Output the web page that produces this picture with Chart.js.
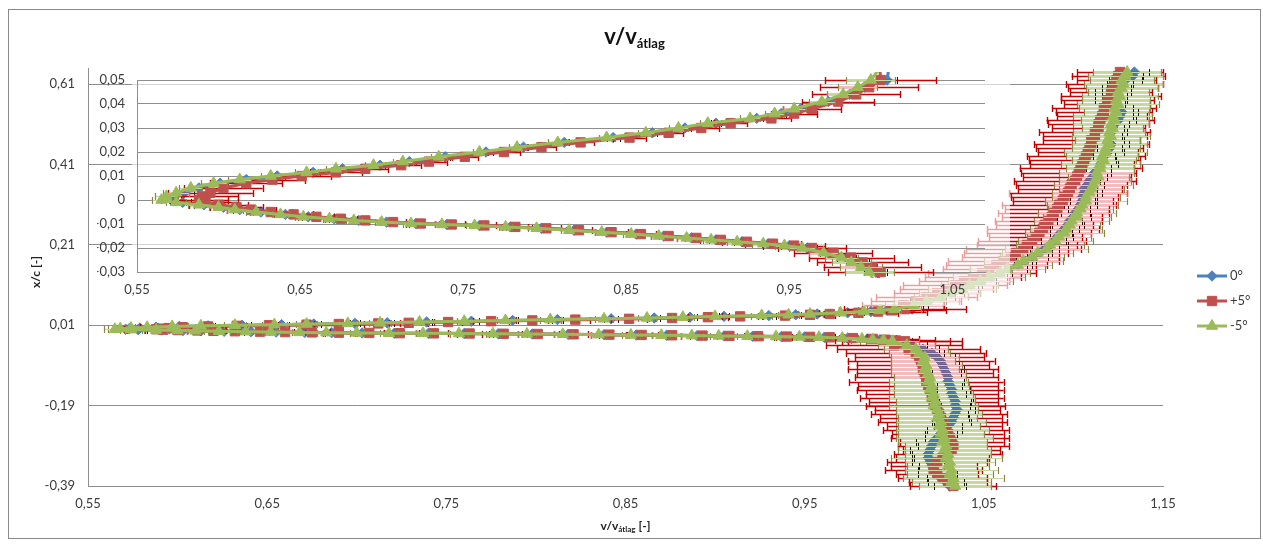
<!DOCTYPE html>
<html>
<head>
<meta charset="utf-8">
<script src="https://cdn.jsdelivr.net/npm/chart.js@4.4.1/dist/chart.umd.min.js"></script>
<style>
  html, body { margin: 0; padding: 0; background: #ffffff; }
  #wrap { position: relative; width: 1263px; height: 544px; }
  #wrap canvas { position: absolute; left: 0; top: 0; }
</style>
</head>
<body>
<div id="wrap">
  <canvas id="main" width="1263" height="544"></canvas>
  <canvas id="inset" width="1263" height="544"></canvas>
</div>
<script>
// Series names (legend order)
const seriesNames = ['0°', '+5°', '-5°'];

// x/c positions along the profile: upper side (top -> leading edge), then lower side
const xc = [
  0.64, 0.63, 0.62, 0.61, 0.60, 0.59, 0.58, 0.57, 0.56, 0.55,
  0.54, 0.53, 0.52, 0.51, 0.50, 0.49, 0.48, 0.47, 0.46, 0.45,
  0.44, 0.43, 0.42, 0.41, 0.40, 0.39, 0.38, 0.37, 0.36, 0.35,
  0.34, 0.33, 0.32, 0.31, 0.30, 0.29, 0.28, 0.27, 0.26, 0.25,
  0.24, 0.23, 0.22, 0.21, 0.20, 0.19, 0.18, 0.17, 0.16, 0.15,
  0.14, 0.13, 0.12, 0.11, 0.10, 0.09, 0.08, 0.07, 0.06,
  0.050, 0.047, 0.044, 0.041, 0.038, 0.036, 0.034, 0.032, 0.030, 0.028,
  0.026, 0.024, 0.022, 0.020, 0.018, 0.016, 0.0145, 0.013, 0.0115, 0.010,
  0.0085, 0.007, 0.005, 0.003, 0.0015, 0,
  -0.001, -0.002, -0.003, -0.004, -0.005, -0.006, -0.007, -0.0078, -0.0085, -0.0092,
  -0.0098, -0.0102, -0.0106, -0.0112, -0.0118, -0.0126, -0.0134, -0.0142, -0.015, -0.0158,
  -0.0166, -0.0174, -0.0182, -0.019, -0.020, -0.022, -0.024, -0.026, -0.028, -0.030,
  -0.04, -0.05, -0.06, -0.07, -0.08, -0.09, -0.10, -0.11, -0.12, -0.13,
  -0.14, -0.15, -0.16, -0.17, -0.18, -0.19, -0.20, -0.21, -0.22, -0.23,
  -0.24, -0.25, -0.26, -0.27, -0.28, -0.29, -0.30, -0.31, -0.32, -0.33,
  -0.34, -0.35, -0.36, -0.37, -0.38, -0.39
];

// v/v_átlag, 0°
const v0 = [
  1.134, 1.133, 1.129, 1.126, 1.124, 1.122, 1.123, 1.121, 1.123, 1.125,
  1.127, 1.126, 1.125, 1.123, 1.122, 1.121, 1.120, 1.120, 1.121, 1.120,
  1.119, 1.117, 1.116, 1.115, 1.114, 1.112, 1.111, 1.109, 1.108, 1.106,
  1.106, 1.105, 1.105, 1.104, 1.103, 1.101, 1.100, 1.098, 1.097, 1.095,
  1.093, 1.091, 1.089, 1.087, 1.084, 1.081, 1.077, 1.073, 1.069, 1.064,
  1.059, 1.054, 1.049, 1.043, 1.038, 1.032, 1.026, 1.019, 1.012,
  1.010, 0.996, 0.987, 0.974, 0.957, 0.945, 0.930, 0.905, 0.886, 0.866,
  0.842, 0.812, 0.787, 0.764, 0.739, 0.717, 0.699, 0.676, 0.658, 0.636,
  0.617, 0.601, 0.588, 0.579, 0.573, 0.571,
  0.578, 0.591, 0.603, 0.613, 0.626, 0.641, 0.655, 0.671, 0.686, 0.703,
  0.721, 0.740, 0.760, 0.779, 0.798, 0.818, 0.838, 0.856, 0.873, 0.890,
  0.905, 0.921, 0.937, 0.950, 0.961, 0.974, 0.985, 0.992, 0.998, 1.003,
  1.010, 1.016, 1.021, 1.024, 1.026, 1.027, 1.028, 1.029, 1.030, 1.030,
  1.031, 1.032, 1.032, 1.033, 1.034, 1.034, 1.035, 1.034, 1.033, 1.032,
  1.030, 1.028, 1.026, 1.024, 1.022, 1.021, 1.020, 1.019, 1.019, 1.020,
  1.021, 1.022, 1.024, 1.026, 1.029, 1.031
];

// v/v_átlag, +5°
const vPlus5 = [
  1.126, 1.125, 1.124, 1.123, 1.122, 1.121, 1.121, 1.119, 1.119, 1.117,
  1.117, 1.116, 1.115, 1.114, 1.114, 1.112, 1.112, 1.110, 1.110, 1.109,
  1.108, 1.107, 1.106, 1.105, 1.104, 1.103, 1.102, 1.101, 1.099, 1.098,
  1.097, 1.095, 1.094, 1.092, 1.091, 1.089, 1.088, 1.086, 1.084, 1.083,
  1.081, 1.079, 1.077, 1.074, 1.072, 1.068, 1.065, 1.061, 1.057, 1.053,
  1.049, 1.044, 1.039, 1.034, 1.029, 1.024, 1.018, 1.012, 1.005,
  1.006, 0.999, 0.991, 0.980, 0.964, 0.953, 0.939, 0.914, 0.896, 0.876,
  0.852, 0.822, 0.798, 0.775, 0.751, 0.729, 0.712, 0.690, 0.672, 0.651,
  0.633, 0.617, 0.603, 0.595, 0.590, 0.588,
  0.592, 0.600, 0.611, 0.620, 0.632, 0.646, 0.660, 0.675, 0.690, 0.707,
  0.724, 0.743, 0.763, 0.782, 0.801, 0.821, 0.841, 0.859, 0.876, 0.893,
  0.908, 0.924, 0.940, 0.953, 0.964, 0.977, 0.988, 0.995, 1.001, 1.006,
  1.000, 1.008, 1.012, 1.014, 1.015, 1.016, 1.016, 1.017, 1.018, 1.018,
  1.019, 1.020, 1.021, 1.021, 1.022, 1.023, 1.024, 1.025, 1.026, 1.027,
  1.028, 1.029, 1.030, 1.031, 1.032, 1.033, 1.032, 1.030, 1.027, 1.024,
  1.022, 1.022, 1.024, 1.027, 1.030, 1.033
];

// v/v_átlag, -5°
const vMinus5 = [
  1.130, 1.129, 1.127, 1.128, 1.127, 1.125, 1.126, 1.124, 1.125, 1.123,
  1.124, 1.122, 1.123, 1.121, 1.122, 1.120, 1.121, 1.119, 1.120, 1.118,
  1.118, 1.116, 1.117, 1.115, 1.115, 1.113, 1.114, 1.112, 1.111, 1.110,
  1.109, 1.107, 1.107, 1.105, 1.104, 1.102, 1.102, 1.099, 1.098, 1.096,
  1.095, 1.092, 1.090, 1.087, 1.085, 1.080, 1.077, 1.072, 1.069, 1.063,
  1.059, 1.053, 1.048, 1.042, 1.038, 1.031, 1.026, 1.018, 1.011,
  1.000, 0.992, 0.983, 0.970, 0.953, 0.941, 0.926, 0.900, 0.882, 0.862,
  0.838, 0.808, 0.783, 0.760, 0.735, 0.713, 0.695, 0.672, 0.654, 0.632,
  0.613, 0.597, 0.583, 0.574, 0.568, 0.565,
  0.574, 0.588, 0.600, 0.610, 0.623, 0.638, 0.652, 0.668, 0.683, 0.700,
  0.718, 0.737, 0.757, 0.776, 0.795, 0.815, 0.835, 0.853, 0.870, 0.887,
  0.902, 0.918, 0.934, 0.947, 0.958, 0.971, 0.982, 0.988, 0.994, 0.999,
  1.007, 1.012, 1.014, 1.017, 1.016, 1.018, 1.017, 1.019, 1.020, 1.019,
  1.021, 1.020, 1.022, 1.021, 1.023, 1.022, 1.024, 1.025, 1.024, 1.026,
  1.025, 1.027, 1.026, 1.028, 1.027, 1.029, 1.028, 1.030, 1.029, 1.031,
  1.030, 1.032, 1.031, 1.033, 1.032, 1.034
];

// Horizontal error (± v/v_átlag), 0°
const err0 = [
  0.008, 0.006, 0.009, 0.007, 0.008, 0.010, 0.007, 0.009, 0.006, 0.008,
  0.009, 0.007, 0.010, 0.008, 0.006, 0.009, 0.007, 0.008, 0.010, 0.007,
  0.009, 0.006, 0.008, 0.010, 0.007, 0.009, 0.008, 0.006, 0.009, 0.007,
  0.010, 0.008, 0.007, 0.009, 0.006, 0.008, 0.010, 0.007, 0.009, 0.008,
  0.006, 0.009, 0.007, 0.010, 0.008, 0.007, 0.009, 0.006, 0.008, 0.010,
  0.007, 0.009, 0.008, 0.006, 0.009, 0.007, 0.008, 0.010, 0.007,
  0.006, 0.005, 0.004, 0.005, 0.004, 0.003, 0.004, 0.003, 0.004, 0.003,
  0.004, 0.003, 0.003, 0.004, 0.003, 0.004, 0.003, 0.004, 0.004, 0.005,
  0.004, 0.005, 0.005, 0.006, 0.005, 0.006,
  0.005, 0.006, 0.005, 0.004, 0.005, 0.004, 0.004, 0.003, 0.004, 0.003,
  0.004, 0.003, 0.004, 0.003, 0.003, 0.004, 0.003, 0.004, 0.003, 0.004,
  0.004, 0.005, 0.004, 0.005, 0.006, 0.005, 0.006, 0.007, 0.006, 0.007,
  0.008, 0.009, 0.007, 0.010, 0.008, 0.009, 0.011, 0.008, 0.010, 0.009,
  0.007, 0.010, 0.008, 0.011, 0.009, 0.008, 0.010, 0.007, 0.009, 0.011,
  0.008, 0.010, 0.009, 0.007, 0.010, 0.008, 0.011, 0.009, 0.008, 0.010,
  0.007, 0.009, 0.011, 0.008, 0.010, 0.009
];

// Horizontal error (± v/v_átlag), +5°
const errPlus5 = [
  0.024, 0.026, 0.022, 0.027, 0.025, 0.023, 0.028, 0.026, 0.024, 0.029,
  0.027, 0.025, 0.030, 0.028, 0.026, 0.031, 0.029, 0.027, 0.032, 0.030,
  0.028, 0.033, 0.031, 0.029, 0.034, 0.032, 0.030, 0.034, 0.031, 0.029,
  0.033, 0.030, 0.028, 0.032, 0.029, 0.031, 0.028, 0.030, 0.027, 0.031,
  0.029, 0.026, 0.030, 0.028, 0.032, 0.029, 0.027, 0.031, 0.028, 0.026,
  0.030, 0.027, 0.025, 0.029, 0.026, 0.024, 0.028, 0.025, 0.023,
  0.034, 0.030, 0.027, 0.022, 0.018, 0.014, 0.012, 0.010, 0.011, 0.009,
  0.010, 0.008, 0.009, 0.010, 0.008, 0.011, 0.012, 0.014, 0.016, 0.018,
  0.020, 0.022, 0.024, 0.026, 0.022, 0.018,
  0.020, 0.018, 0.016, 0.015, 0.013, 0.012, 0.011, 0.010, 0.009, 0.008,
  0.009, 0.008, 0.007, 0.008, 0.009, 0.008, 0.010, 0.009, 0.011, 0.012,
  0.013, 0.015, 0.017, 0.019, 0.021, 0.024, 0.026, 0.028, 0.030, 0.032,
  0.038, 0.040, 0.039, 0.036, 0.041, 0.037, 0.042, 0.038, 0.040, 0.043,
  0.039, 0.041, 0.037, 0.040, 0.036, 0.039, 0.035, 0.038, 0.034, 0.036,
  0.032, 0.035, 0.031, 0.033, 0.029, 0.031, 0.027, 0.030, 0.026, 0.028,
  0.024, 0.027, 0.023, 0.025, 0.022, 0.024
];

// Horizontal error (± v/v_átlag), -5°
const errMinus5 = [
  0.019, 0.021, 0.018, 0.022, 0.020, 0.017, 0.021, 0.019, 0.023, 0.020,
  0.018, 0.022, 0.019, 0.021, 0.017, 0.020, 0.022, 0.018, 0.021, 0.019,
  0.023, 0.020, 0.018, 0.022, 0.019, 0.021, 0.017, 0.020, 0.022, 0.018,
  0.021, 0.019, 0.023, 0.020, 0.018, 0.022, 0.019, 0.021, 0.017, 0.020,
  0.022, 0.018, 0.021, 0.019, 0.023, 0.020, 0.018, 0.022, 0.019, 0.021,
  0.017, 0.020, 0.018, 0.016, 0.019, 0.017, 0.015, 0.018, 0.016,
  0.015, 0.012, 0.010, 0.008, 0.007, 0.006, 0.006, 0.005, 0.006, 0.005,
  0.005, 0.006, 0.005, 0.004, 0.005, 0.006, 0.005, 0.006, 0.007, 0.006,
  0.007, 0.008, 0.007, 0.008, 0.007, 0.006,
  0.006, 0.007, 0.006, 0.005, 0.006, 0.005, 0.005, 0.004, 0.005, 0.004,
  0.005, 0.004, 0.005, 0.004, 0.005, 0.005, 0.004, 0.005, 0.005, 0.006,
  0.005, 0.006, 0.007, 0.006, 0.008, 0.009, 0.010, 0.012, 0.013, 0.015,
  0.016, 0.018, 0.017, 0.019, 0.018, 0.020, 0.019, 0.021, 0.020, 0.022,
  0.021, 0.023, 0.022, 0.024, 0.022, 0.025, 0.023, 0.024, 0.022, 0.025,
  0.023, 0.026, 0.024, 0.027, 0.025, 0.023, 0.026, 0.024, 0.031, 0.025,
  0.023, 0.026, 0.024, 0.028, 0.022, 0.020
];

// Axis ticks
const mainXTicks = [0.55, 0.65, 0.75, 0.85, 0.95, 1.05, 1.15];
const mainYTicks = [-0.39, -0.19, 0.01, 0.21, 0.41, 0.61];
const insetXTicks = [0.55, 0.65, 0.75, 0.85, 0.95, 1.05];
const insetYTicks = [-0.03, -0.02, -0.01, 0, 0.01, 0.02, 0.03, 0.04, 0.05];

// ---- styling ----
const FONT = 'Lato, "Open Sans", sans-serif';
const TXT = '#3b3b3b';
const GRID = '#8e8e8e';
const FRAME = '#8a8a8a';

const seriesValues = [v0, vPlus5, vMinus5];
const seriesErrors = [err0, errPlus5, errMinus5];
const seriesStyles = [
  { color: '#4F81BD', pointStyle: 'rectRot', radius: 5.2, errColor: '#111111', capColor: '#111111', errWidth: 1, order: 2 },
  { color: '#C0504D', pointStyle: 'rect', radius: 6.6, errColor: '#C80000', capColor: '#C00000', errWidth: 1.4, order: 1 },
  { color: '#9BBB59', pointStyle: 'triangle', radius: 6.5, errColor: '#C6D79E', capColor: '#8F8445', errWidth: 1.2, order: 0 }
];

const fmt = v => (Math.abs(v) < 1e-9 ? '0' : Number(v).toFixed(2).replace('.', ','));

function makeDatasets(clip) {
  return seriesStyles.map((s, k) => ({
    label: seriesNames[k],
    data: xc.map((y, i) => ({ x: seriesValues[k][i], y })),
    showLine: true,
    borderColor: s.color,
    backgroundColor: s.color,
    borderWidth: 3,
    pointStyle: s.pointStyle,
    pointRadius: s.radius,
    pointBorderWidth: 1,
    pointBorderColor: s.color,
    pointBackgroundColor: s.color,
    order: s.order,
    clip: clip,
    errX: seriesErrors[k],
    errColor: s.errColor,
    errCapColor: s.capColor,
    errWidth: s.errWidth
  }));
}

// Horizontal error bars, drawn just before each series so the stacking follows the series order
const errorBarPlugin = {
  id: 'errorBars',
  beforeDatasetDraw(chart, args, opts) {
    const ds = chart.data.datasets[args.index];
    if (!ds.errX) return;
    const ctx = chart.ctx, a = chart.chartArea;
    const sx = chart.scales.x, sy = chart.scales.y;
    const m = opts.margin || 0;
    ctx.save();
    ctx.beginPath();
    ctx.rect(a.left - m, a.top - m, a.right - a.left + 2 * m, a.bottom - a.top + 2 * m);
    ctx.clip();
    ds.data.forEach((p, i) => {
      const e = ds.errX[i];
      if (e === undefined || p.x === undefined) return;
      const py = Math.round(sy.getPixelForValue(p.y)) + 0.5;
      const x1 = sx.getPixelForValue(p.x - e);
      const x2 = sx.getPixelForValue(p.x + e);
      ctx.lineWidth = ds.errWidth;
      ctx.strokeStyle = ds.errColor;
      ctx.beginPath(); ctx.moveTo(x1, py); ctx.lineTo(x2, py); ctx.stroke();
      ctx.strokeStyle = ds.errCapColor;
      ctx.beginPath();
      ctx.moveTo(Math.round(x1) + 0.5, py - 3.5); ctx.lineTo(Math.round(x1) + 0.5, py + 3.5);
      ctx.moveTo(Math.round(x2) + 0.5, py - 3.5); ctx.lineTo(Math.round(x2) + 0.5, py + 3.5);
      ctx.stroke();
    });
    ctx.restore();
  }
};

// text with a subscript part, centred on cx
function drawParts(ctx, cx, baseline, parts) {
  let total = 0;
  parts.forEach(p => { ctx.font = p.font; p.w = ctx.measureText(p.text).width; total += p.w; });
  let x = cx - total / 2;
  ctx.textAlign = 'left';
  ctx.textBaseline = 'alphabetic';
  parts.forEach(p => { ctx.font = p.font; ctx.fillText(p.text, x, baseline + (p.dy || 0)); x += p.w; });
}

// frame, title, axis titles and legend of the main chart
const decorPlugin = {
  id: 'decor',
  afterDraw(chart) {
    const ctx = chart.ctx, a = chart.chartArea;
    ctx.save();
    ctx.strokeStyle = FRAME; ctx.lineWidth = 1;
    ctx.strokeRect(8.5, 9.5, 1252, 529);

    ctx.fillStyle = '#111111';
    drawParts(ctx, 634.5, 44, [
      { text: 'v/v', font: 'bold 22px ' + FONT },
      { text: 'átlag', font: 'bold 13px ' + FONT, dy: 4 }
    ]);

    ctx.fillStyle = '#222222';
    drawParts(ctx, (a.left + a.right) / 2, 530, [
      { text: 'v/v', font: 'bold 12px ' + FONT },
      { text: 'átlag', font: 'bold 8px ' + FONT, dy: 2 },
      { text: ' [-]', font: 'bold 12px ' + FONT }
    ]);

    ctx.save();
    ctx.translate(40, 272);
    ctx.rotate(-Math.PI / 2);
    drawParts(ctx, 0, 0, [{ text: 'x/c [-]', font: 'bold 12px ' + FONT }]);
    ctx.restore();

    seriesStyles.forEach((s, i) => {
      const y = 276 + i * 25;
      ctx.strokeStyle = s.color; ctx.lineWidth = 3;
      ctx.beginPath(); ctx.moveTo(1197, y); ctx.lineTo(1227, y); ctx.stroke();
      ctx.fillStyle = s.color; ctx.strokeStyle = s.color; ctx.lineWidth = 1;
      Chart.helpers.drawPoint(ctx, { pointStyle: s.pointStyle, radius: s.radius, rotation: 0, borderWidth: 1 }, 1212, y);
      ctx.fillStyle = TXT; ctx.font = '13px ' + FONT;
      ctx.textAlign = 'left'; ctx.textBaseline = 'middle';
      ctx.fillText(seriesNames[i], 1230, y);
    });
    ctx.restore();
  }
};

// translucent white backdrop of the zoomed leading-edge chart
const veilPlugin = {
  id: 'veil',
  beforeDraw(chart) {
    const a = chart.chartArea, ctx = chart.ctx;
    ctx.save();
    ctx.fillStyle = 'rgba(255,255,255,0.62)';
    ctx.fillRect(a.left - 5, a.top - 22, a.right - a.left + 30, a.bottom - a.top + 56);
    ctx.restore();
  }
};

function axis(min, max, ticks, opts) {
  return Object.assign({
    type: 'linear', min, max,
    afterBuildTicks: s => { s.ticks = ticks.map(v => ({ value: v })); },
    grid: { display: false, drawTicks: false, color: GRID, lineWidth: 1 },
    border: { display: true, color: GRID, width: 1 },
    ticks: { color: TXT, font: { family: FONT, size: 13 }, callback: fmt, maxRotation: 0, autoSkip: false }
  }, opts);
}

function build() {
  Chart.defaults.font.family = FONT;

  new Chart(document.getElementById('main'), {
    type: 'scatter',
    data: { datasets: makeDatasets(false) },
    options: {
      responsive: false, animation: false, devicePixelRatio: 1, events: [],
      layout: { padding: { left: 38, top: 68, right: 100, bottom: 28 } },
      plugins: { legend: { display: false }, tooltip: { enabled: false }, errorBars: { margin: 1000 } },
      scales: {
        x: axis(0.55, 1.15, mainXTicks, {
          afterFit: s => { s.height = 30; },
          ticks: { color: TXT, font: { family: FONT, size: 13 }, callback: fmt, padding: 10, maxRotation: 0, autoSkip: false }
        }),
        y: axis(-0.39, 0.65, mainYTicks, {
          afterFit: s => { s.width = 50; },
          grid: { display: true, drawTicks: false, color: GRID, lineWidth: 1 },
          ticks: { color: TXT, font: { family: FONT, size: 13 }, callback: fmt, padding: 13, autoSkip: false }
        })
      }
    },
    plugins: [errorBarPlugin, decorPlugin]
  });

  new Chart(document.getElementById('inset'), {
    type: 'scatter',
    data: { datasets: makeDatasets({ left: 6, top: 8, right: 6, bottom: 6 }) },
    options: {
      responsive: false, animation: false, devicePixelRatio: 1, events: [],
      layout: { padding: { left: 97, top: 80, right: 278, bottom: 244 } },
      plugins: { legend: { display: false }, tooltip: { enabled: false }, errorBars: { margin: 6 } },
      scales: {
        x: axis(0.55, 1.07, insetXTicks, {
          afterFit: s => { s.height = 28; },
          ticks: { color: TXT, font: { family: FONT, size: 13 }, callback: fmt, padding: 10, maxRotation: 0, autoSkip: false }
        }),
        y: axis(-0.03, 0.05, insetYTicks, {
          afterFit: s => { s.width = 40; },
          grid: { display: true, drawTicks: false, color: GRID, lineWidth: 1 },
          ticks: { color: TXT, font: { family: FONT, size: 13 }, callback: fmt, padding: 12, autoSkip: false }
        })
      }
    },
    plugins: [veilPlugin, errorBarPlugin]
  });
}

if (document.fonts && document.fonts.load) {
  Promise.all([
    document.fonts.load('13px Lato'),
    document.fonts.load('bold 13px Lato')
  ]).then(build, build);
} else {
  build();
}
</script>
</body>
</html>
